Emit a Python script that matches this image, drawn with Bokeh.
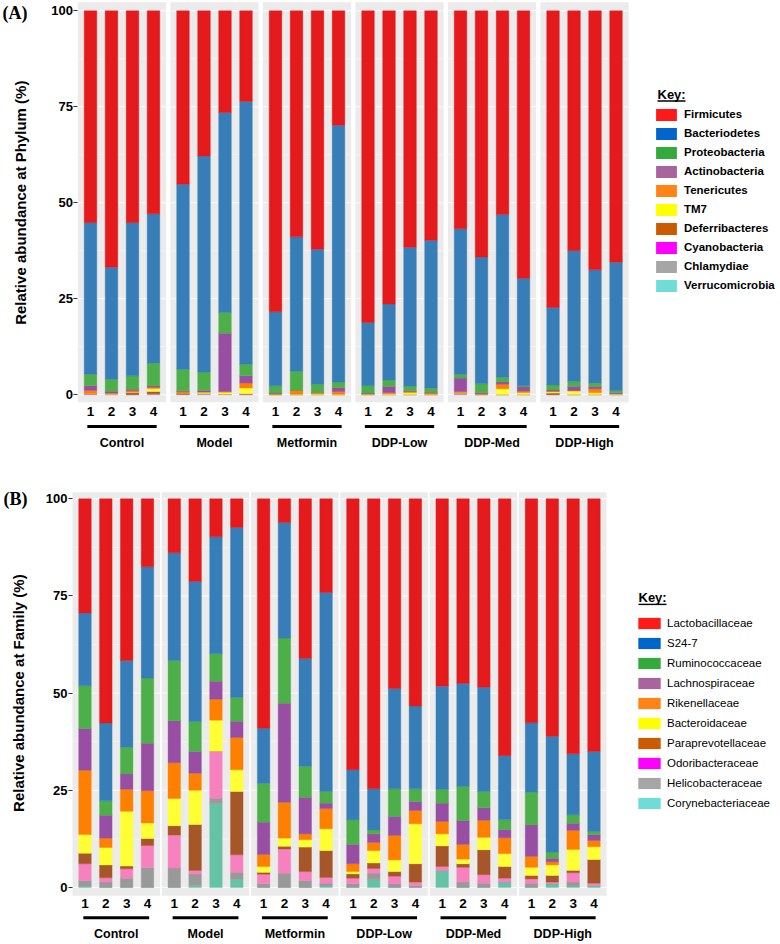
import numpy as np
from bokeh.plotting import figure
from bokeh.models import Range1d, FixedTicker, Legend, LegendItem, ColumnDataSource
from bokeh.layouts import column
from bokeh.embed import file_html
from bokeh.resources import INLINE
from bokeh.core.properties import value

SANS = "Liberation Sans"
SERIF = "Liberation Serif"

groups = ["Control", "Model", "Metformin", "DDP-Low", "DDP-Med", "DDP-High"]
samples = ["1", "2", "3", "4"]

# ---------------- Panel A : phylum level (24 samples, 4 per group) ----------------
phyla = ["Firmicutes", "Bacteriodetes", "Proteobacteria", "Actinobacteria", "Tenericutes",
         "TM7", "Deferribacteres", "Cyanobacteria", "Chlamydiae", "Verrucomicrobia"]
firmicutes = [55.2, 66.8, 55.2, 52.9, 45.2, 37.9, 26.5, 23.6, 78.4, 58.9, 62.1, 29.8,
              81.2, 76.4, 61.6, 59.8, 56.8, 64.2, 53.1, 69.7, 77.3, 62.5, 67.5, 65.5]
bacteriodetes = [39.5, 29.2, 39.9, 38.9, 48.2, 56.3, 52.1, 68.5, 19.3, 35.0, 35.2, 66.9,
                 16.5, 19.8, 36.2, 38.5, 37.9, 33.1, 42.4, 28.0, 20.2, 34.1, 29.5, 33.4]
proteobacteria = [3.0, 3.1, 3.5, 5.9, 5.6, 4.8, 5.4, 3.0, 1.9, 5.0, 2.2, 1.5,
                  1.9, 1.7, 1.2, 1.1, 1.0, 2.3, 1.2, 0.3, 1.3, 1.3, 0.9, 0.6]
actinobacteria = [1.2, 0.5, 0.4, 0.4, 0.2, 0.4, 15.2, 1.9, 0.2, 0.0, 0.0, 1.0,
                  0.2, 1.6, 0.2, 0.2, 3.5, 0.3, 0.6, 1.1, 0.3, 1.1, 0.6, 0.3]
tenericutes = [0.8, 0.2, 0.4, 0.3, 0.4, 0.1, 0.2, 1.3, 0.2, 1.0, 0.3, 0.7,
               0.1, 0.3, 0.3, 0.3, 0.3, 0.2, 1.2, 0.4, 0.2, 0.0, 1.0, 0.0]
tm7 = [0.0, 0.1, 0.1, 0.8, 0.0, 0.3, 0.5, 1.5, 0.0, 0.1, 0.2, 0.1,
       0.1, 0.2, 0.5, 0.1, 0.1, 0.0, 1.5, 0.5, 0.3, 1.0, 0.5, 0.2]
deferribacteres = [0.1, 0.0, 0.5, 0.6, 0.3, 0.0, 0.0, 0.1, 0.0, 0.0, 0.0, 0.0,
                   0.0, 0.0, 0.0, 0.0, 0.0, 0.0, 0.0, 0.0, 0.4, 0.0, 0.0, 0.0]
cyanobacteria = [0.1, 0.1, 0.0, 0.1, 0.0, 0.2, 0.0, 0.1, 0.0, 0.0, 0.0, 0.0,
                 0.0, 0.0, 0.0, 0.0, 0.3, 0.0, 0.0, 0.0, 0.0, 0.0, 0.0, 0.0]
chlamydiae = [0.1, 0.0, 0.0, 0.1, 0.1, 0.1, 0.1, 0.0, 0.0, 0.0, 0.0, 0.0,
              0.0, 0.0, 0.0, 0.0, 0.1, 0.0, 0.0, 0.0, 0.0, 0.0, 0.0, 0.0]
verrucomicrobia = [0.0, 0.0, 0.0, 0.0, 0.0, 0.0, 0.0, 0.0, 0.0, 0.0, 0.0, 0.0,
                   0.0, 0.0, 0.0, 0.0, 0.0, 0.0, 0.0, 0.0, 0.0, 0.0, 0.0, 0.0]

# ---------------- Panel B : family level ----------------
families = ["Lactobacillaceae", "S24-7", "Ruminococcaceae", "Lachnospiraceae", "Rikenellaceae",
            "Bacteroidaceae", "Paraprevotellaceae", "Odoribacteraceae", "Helicobacteraceae",
            "Corynebacteriaceae"]
lactobacillaceae = [29.3, 57.7, 41.6, 17.5, 13.9, 21.3, 9.8, 7.4, 59.0, 6.1, 41.1, 24.1,
                    69.7, 74.6, 48.8, 53.3, 48.2, 47.5, 48.5, 66.1, 57.6, 61.1, 65.6, 65.0]
s24_7 = [18.7, 20.0, 22.3, 28.6, 27.7, 36.0, 30.1, 43.7, 14.2, 29.7, 27.7, 51.2,
         12.9, 10.6, 25.8, 21.3, 26.5, 26.5, 26.8, 16.5, 17.9, 29.8, 15.7, 20.6]
ruminococcaceae = [11.0, 3.7, 6.9, 16.8, 15.5, 7.7, 7.1, 6.1, 10.0, 16.8, 8.0, 3.0,
                   6.3, 1.0, 7.1, 3.3, 3.6, 8.8, 4.2, 2.5, 8.4, 1.6, 2.2, 0.8]
lachnospiraceae = [10.7, 5.9, 3.9, 12.2, 10.8, 5.6, 4.6, 4.2, 8.3, 25.5, 9.4, 1.4,
                   5.0, 2.2, 4.9, 2.3, 4.7, 6.1, 3.2, 2.1, 8.1, 0.9, 1.8, 1.5]
rikenellaceae = [16.5, 2.4, 5.7, 8.3, 9.2, 4.4, 5.4, 8.3, 3.1, 9.2, 1.5, 5.2,
                 2.0, 2.1, 6.3, 3.4, 3.2, 3.8, 4.4, 4.1, 2.8, 0.8, 4.9, 1.6]
bacteroidaceae = [4.8, 4.5, 14.1, 4.0, 7.0, 8.8, 8.0, 5.6, 1.5, 2.1, 1.9, 5.6,
                  0.6, 3.2, 3.0, 10.3, 3.1, 1.2, 3.2, 3.3, 2.1, 2.7, 5.4, 3.3]
paraprevotellaceae = [2.7, 3.3, 0.7, 1.8, 2.4, 11.8, 0.0, 16.3, 0.5, 0.7, 6.3, 6.9,
                      1.1, 1.4, 1.2, 4.7, 5.3, 0.9, 6.4, 3.0, 0.9, 1.7, 0.6, 6.1]
odoribacteraceae = [4.3, 1.1, 2.4, 5.7, 8.5, 0.9, 12.1, 4.5, 2.4, 6.2, 2.3, 1.5,
                    1.4, 1.2, 1.9, 0.9, 1.0, 3.8, 2.2, 1.0, 1.1, 0.4, 2.4, 0.6]
helicobacteraceae = [1.5, 1.4, 2.4, 5.1, 5.0, 3.0, 1.4, 1.8, 1.0, 3.7, 1.8, 0.7,
                     1.0, 1.7, 1.0, 0.5, 0.0, 1.4, 1.1, 0.0, 1.1, 0.0, 1.0, 0.0]
corynebacteriaceae = [0.3, 0.0, 0.0, 0.0, 0.0, 0.5, 21.6, 2.1, 0.0, 0.0, 0.0, 0.4,
                      0.0, 2.0, 0.0, 0.0, 4.4, 0.0, 0.0, 1.4, 0.0, 1.0, 0.4, 0.5]

# colours (top of stack first)
bar_colors = ["#E41A1C", "#377EB8", "#4DAF4A", "#984EA3", "#FF7F00",
              "#FFFF33", "#A65628", "#F781BF", "#999999", "#66C2A5"]
key_colors = ["#FF1A1A", "#0066CC", "#33AA3C", "#A8649C", "#FF8415",
              "#FFFF00", "#CC5A00", "#FF00FF", "#A6A6A6", "#6FDCD8"]

WIDTH = 780


def build_panel(names, series, ylab, tag, L):
    u = L["unit"]
    period = L["period"]
    H = L["height"]
    pxu = (L["zero_px"] - L["hundred_px"]) / 100.0
    y1 = 100.0 + L["hundred_px"] / pxu
    y0 = -(H - L["zero_px"]) / pxu
    x0 = -L["facet0_px"] / u
    x1 = x0 + WIDTH / u

    def px2x(px):
        return x0 + px / u

    def py2y(py):
        return y1 - py / pxu

    p = figure(width=WIDTH, height=H, x_range=Range1d(x0, x1), y_range=Range1d(y0, y1),
               x_axis_location=None, y_axis_location="left",
               output_backend="svg", toolbar_location=None,
               min_border_left=0, min_border_right=0, min_border_top=0, min_border_bottom=0)
    p.outline_line_color = None
    p.background_fill_color = "white"
    p.border_fill_color = "white"
    p.grid.visible = False

    # facet panels
    fs = [g * period for g in range(len(groups))]
    fe = [s + 4.2 for s in fs]
    p.quad(left=fs, right=fe, bottom=L["bg"][0], top=L["bg"][1],
           fill_color="#EBEBEB", line_color=None)
    gx0, gx1, gy, gw = [], [], [], []
    for s, e in zip(fs, fe):
        for yv in [12.5, 37.5, 62.5, 87.5]:
            gx0.append(s); gx1.append(e); gy.append(yv); gw.append(0.5)
        for yv in [0, 25, 50, 75, 100]:
            gx0.append(s); gx1.append(e); gy.append(yv); gw.append(1.0)
    gsrc = ColumnDataSource(dict(x0=gx0, x1=gx1, y=gy, w=gw))
    p.segment(x0="x0", y0="y", x1="x1", y1="y", line_width="w", line_color="white",
              line_alpha=0.8, source=gsrc)

    # stacked bars
    xs = [g * period + 0.6 + s for g in range(len(groups)) for s in range(len(samples))]
    arr = np.array(series, dtype=float)
    pct = arr / arr.sum(axis=0) * 100.0
    data = dict(x=xs)
    for n, row in zip(names, pct):
        data[n] = row
    src = ColumnDataSource(data)
    p.vbar_stack(names[::-1], x="x", width=0.6, color=bar_colors[::-1],
                 line_width=0.4, source=src)

    # sample ticks, underlines and group names
    tsrc = ColumnDataSource(dict(x=xs, y=[L["tick_y"]] * len(xs),
                                 t=samples * len(groups)))
    p.text(x="x", y="y", text="t", source=tsrc, text_align="center",
           text_baseline="middle", text_font=value(SANS), text_font_style="bold",
           text_font_size="13.5px", text_color="black")
    gc = [g * period + 0.6 + 1.5 for g in range(len(groups))]
    usrc = ColumnDataSource(dict(x0=[c - L["uhalf"] for c in gc], x1=[c + L["uhalf"] for c in gc],
                                 y=[L["uline_y"]] * len(gc)))
    p.segment(x0="x0", y0="y", x1="x1", y1="y", line_width=3, line_color="black", source=usrc)
    lsrc = ColumnDataSource(dict(x=gc, y=[L["glabel_y"]] * len(gc), t=groups))
    p.text(x="x", y="y", text="t", source=lsrc, text_align="center",
           text_baseline="middle", text_font=value(SANS), text_font_style="bold",
           text_font_size="12.5px", text_color="black")

    # y axis, pinned to the left edge of the first facet
    ax = p.yaxis[0]
    ax.fixed_location = 0
    ax.ticker = FixedTicker(ticks=[0, 25, 50, 75, 100])
    ax.axis_line_color = None
    ax.major_tick_line_color = "#333333"
    ax.major_tick_out = 4
    ax.major_tick_in = 0
    ax.minor_tick_line_color = None
    ax.major_label_standoff = 1
    ax.major_label_text_font = SANS
    ax.major_label_text_font_style = "bold"
    ax.major_label_text_font_size = "13px"
    ax.major_label_text_color = "black"

    # y title and panel tag
    p.text(x=[px2x(L["ylab_px"])], y=[50], text=[ylab], angle=np.pi / 2,
           text_align="center", text_baseline="middle", text_font=value(SANS),
           text_font_style="bold", text_font_size="15px", text_color="black")
    p.text(x=[px2x(L["tag_px"][0])], y=[py2y(L["tag_px"][1])], text=[tag],
           text_align="left", text_baseline="top", text_font=value(SERIF),
           text_font_style="bold", text_font_size="18px", text_color="black")

    # key
    items = []
    for n, c in zip(names, key_colors):
        r = p.vbar(x=[xs[0]], top=[0.0], bottom=[0.0], width=0.6, fill_color=c, line_color=None)
        items.append(LegendItem(label=n, renderers=[r]))
    leg = Legend(items=items, location=L["leg_loc"], orientation="vertical",
                 padding=0, margin=0, spacing=3, label_height=L["leg_lh"],
                 glyph_height=L["leg_gh"], glyph_width=L["leg_gw"],
                 label_standoff=L["leg_standoff"],
                 border_line_color=None, background_fill_alpha=0,
                 label_text_font=SANS, label_text_font_size="11.5px",
                 label_text_font_style=L["leg_style"], label_text_color="black")
    p.add_layout(leg)
    kx, kbase, kw = L["key"]
    p.text(x=[px2x(kx)], y=[py2y(kbase - 4.6)], text=["Key:"], text_align="left",
           text_baseline="middle", text_font=value(SANS), text_font_style="bold",
           text_font_size="13px", text_color="black")
    p.segment(x0=[px2x(kx)], y0=[py2y(kbase + 2.2)], x1=[px2x(kx + kw)], y1=[py2y(kbase + 2.2)],
              line_width=1.4, line_color="black")
    return p


LA = dict(unit=21.0, period=4.405, facet0_px=77.4, height=456, zero_px=394.1, hundred_px=10.3,
          bg=(-2.0, 102.2), tick_y=-4.4, uline_y=-8.3, glabel_y=-12.5, uhalf=1.65,
          ylab_px=19.5, tag_px=(2, 2),
          leg_loc=(653, 163), leg_lh=16, leg_gh=15, leg_gw=26, leg_standoff=5,
          leg_style="bold", key=(657, 98.3, 28))
LB = dict(unit=20.83, period=4.287, facet0_px=72.0, height=488, zero_px=431, hundred_px=42.3,
          bg=(-2.1, 101.7), tick_y=-4.1, uline_y=-7.8, glabel_y=-11.9, uhalf=1.58,
          ylab_px=18, tag_px=(3, 32),
          leg_loc=(635, 133), leg_lh=17, leg_gh=14, leg_gw=28, leg_standoff=4,
          leg_style="normal", key=(638, 145.7, 28))

pa = build_panel(phyla, [firmicutes, bacteriodetes, proteobacteria, actinobacteria, tenericutes,
                         tm7, deferribacteres, cyanobacteria, chlamydiae, verrucomicrobia],
                 "Relative abundance at Phylum (%)", "(A)", LA)
pb = build_panel(families, [lactobacillaceae, s24_7, ruminococcaceae, lachnospiraceae,
                            rikenellaceae, bacteroidaceae, paraprevotellaceae, odoribacteraceae,
                            helicobacteraceae, corynebacteriaceae],
                 "Relative abundance at Family (%)", "(B)", LB)

layout = column(pa, pb, spacing=0)
open("out.html", "w").write(file_html(layout, INLINE))
